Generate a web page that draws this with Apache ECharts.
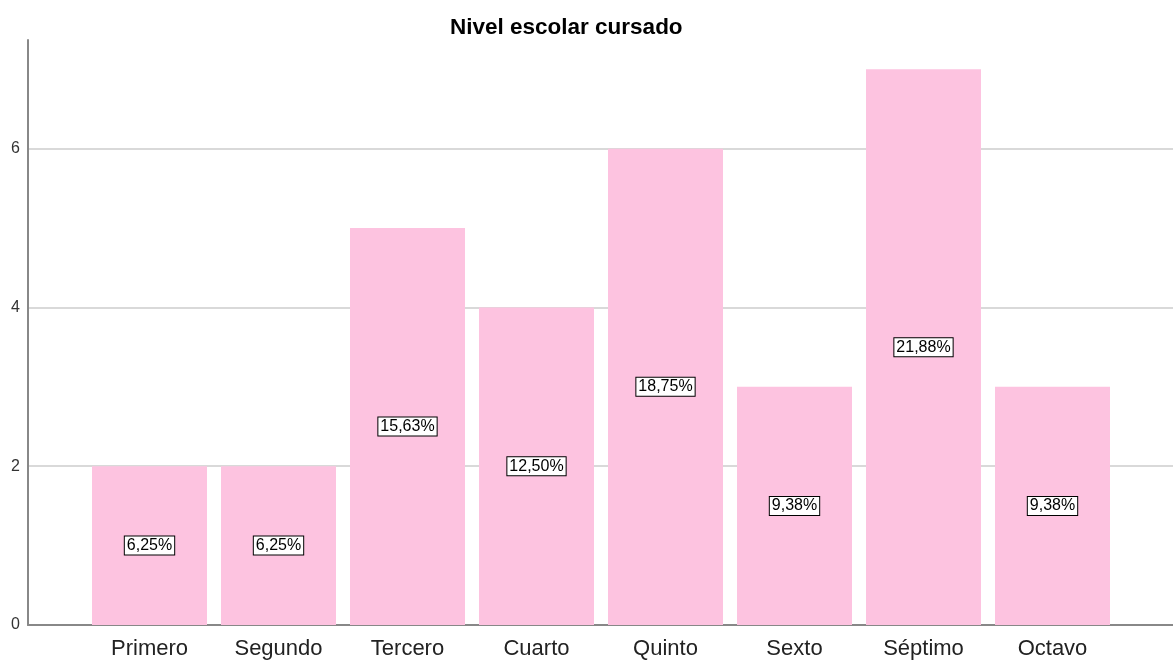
<!DOCTYPE html>
<html>
<head>
<meta charset="utf-8">
<script src="https://cdn.jsdelivr.net/npm/echarts@6/dist/echarts.min.js"></script>
<style>
  html, body { margin: 0; padding: 0; background: #fff; }
  #chart { width: 1173px; height: 661px; }
</style>
</head>
<body>
<div id="chart"></div>
<script>
  const categories = ['Primero', 'Segundo', 'Tercero', 'Cuarto', 'Quinto', 'Sexto', 'Séptimo', 'Octavo'];
  const counts = [2, 2, 5, 4, 6, 3, 7, 3];
  const percents = ['6,25%', '6,25%', '15,63%', '12,50%', '18,75%', '9,38%', '21,88%', '9,38%'];
  const yMax = 7.37;

  const chart = echarts.init(document.getElementById('chart'));
  const font = 'Arial, "Liberation Sans", sans-serif';

  const option = {
    animation: false,
    title: {
      text: 'Nivel escolar cursado',
      left: 445,
      top: 11,
      textStyle: { fontSize: 22.5, fontWeight: 'bold', fontFamily: font, color: '#000' },
    },
    grid: [
      { left: 28, right: 0, top: 40, bottom: 36 }, // axes + gridlines
      { left: 85, width: 1032, top: 40, bottom: 36 }, // bars
    ],
    xAxis: [
      {
        gridIndex: 0,
        type: 'value',
        min: 0,
        max: 1,
        axisLine: { show: true, onZero: false, lineStyle: { color: '#888', width: 2 } },
        axisTick: { show: false },
        axisLabel: { show: false },
        splitLine: { show: false },
      },
      {
        gridIndex: 1,
        type: 'category',
        data: categories,
        axisLine: { show: false },
        axisTick: { show: false },
        axisLabel: { fontSize: 22, color: '#222', fontFamily: font, margin: 13 },
      },
    ],
    yAxis: [
      {
        gridIndex: 0,
        type: 'value',
        min: 0,
        max: yMax,
        interval: 2,
        axisLine: { show: true, lineStyle: { color: '#888', width: 2 } },
        axisTick: { show: false },
        axisLabel: { fontSize: 16, color: '#333', fontFamily: font, margin: 8, showMaxLabel: false },
        splitLine: { show: true, showMinLine: false, showMaxLine: false, lineStyle: { color: '#d9d9d9', width: 2 } },
      },
      {
        gridIndex: 1,
        type: 'value',
        min: 0,
        max: yMax,
        show: false,
      },
    ],
    series: [
      {
        type: 'bar',
        xAxisIndex: 1,
        yAxisIndex: 1,
        data: counts,
        barWidth: 115,
        itemStyle: { color: '#fdc3e0' },
        label: {
          show: true,
          position: 'inside',
          formatter: (p) => percents[p.dataIndex],
          fontSize: 16,
          fontFamily: font,
          color: '#000',
          backgroundColor: '#fff',
          borderColor: '#000',
          borderWidth: 1,
          padding: [1, 2, 1, 2],
        },
      },
    ],
  };

  chart.setOption(option);
</script>
</body>
</html>
